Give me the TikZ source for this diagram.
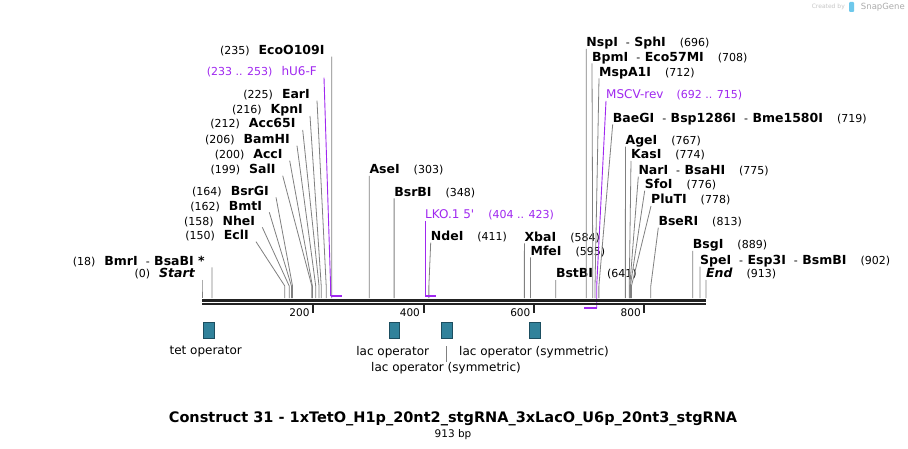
\documentclass[tikz,border=0pt]{standalone}
\usepackage{fontspec}
\setmainfont{DejaVu Sans}
\definecolor{SiteGray}{RGB}{128,128,128}
\definecolor{AxisBlack}{RGB}{34,34,34}
\definecolor{PrimerPurple}{RGB}{160,40,240}
\definecolor{OperatorTeal}{RGB}{49,130,155}
\definecolor{OperatorEdge}{RGB}{28,78,96}
\definecolor{LogoBlue}{RGB}{110,200,235}
\usetikzlibrary{positioning, calc}
\newcommand{\enzname}[1]{{\fontsize{12.5}{14}\selectfont\bfseries #1}}
\newcommand{\enzsep}{\hspace{8pt}{\mdseries\fontsize{11}{13}\selectfont -}\hspace{4.5pt}}

\begin{document}
\begin{tikzpicture}[x=1pt, y=-1pt,
	siteline/.style={draw=SiteGray, line width=0.8pt},
	primerline/.style={draw=PrimerPurple, line width=0.9pt},
	primerbar/.style={draw=PrimerPurple, line width=2pt},
	lsite/.style={anchor=base east, inner sep=0pt, xshift=-7pt, yshift=2pt, font=\fontsize{11}{13}\selectfont},
	rsite/.style={anchor=base west, inner sep=0pt, yshift=2pt, font=\fontsize{11}{13}\selectfont},
	opbox/.style={draw=OperatorEdge, fill=OperatorTeal, line width=0.6pt, minimum width=11pt, minimum height=16pt, inner sep=0pt},
	featlab/.style={font=\fontsize{12}{14}\selectfont, inner sep=0pt},
	ticklab/.style={anchor=east, inner sep=0pt, font=\fontsize{10.5}{12}\selectfont}]
	\useasboundingbox (0,0) rectangle (908,449);
	\fill[white] (0,0) rectangle (908,449);

	% enzyme sites, labels to the left
	\foreach \p/\tx/\ty/\name in {
		235/331.7/56.7/{EcoO109I},
		225/317/100.7/{EarI},
		216/310/116/{KpnI},
		212/302.7/130/{Acc65I},
		206/297/145.7/{BamHI},
		200/289.7/160.7/{AccI},
		199/282.7/175.7/{SalI},
		164/276/197.3/{BsrGI},
		162/269.3/212.3/{BmtI},
		158/262.3/227.3/{NheI},
		150/256/241.7/{EclI},
		18/211.9/267.3/{BmrI\enzsep BsaBI *},
		0/202/280/{\itshape Start}}{
		\pgfmathsetmacro\sx{202+\p*0.552}
		\coordinate (T\p) at (\tx,\ty);
		\coordinate (K\p) at (\sx,286);
		\coordinate (A\p) at (\sx,298);
		\draw[siteline] (T\p) -- (K\p) -- (A\p);
		\node[lsite] (L\p) at (T\p) {(\p)\hspace{9pt}\enzname{\name}};
	}

	% enzyme sites, labels to the right
	\foreach \p/\tx/\ty/\name in {
		303/369.3/176/{AseI},
		348/394.1/198.3/{BsrBI},
		411/430.7/242.7/{NdeI},
		584/524.4/243.3/{XbaI},
		595/530.4/257.3/{MfeI},
		641/555.8/280/{BstBI},
		696/586.2/49/{NspI\enzsep SphI},
		708/592/63.3/{BpmI\enzsep Eco57MI},
		712/599/78.3/{MspA1I},
		719/612.7/124.3/{BaeGI\enzsep Bsp1286I\enzsep Bme1580I},
		767/625.4/146.7/{AgeI},
		774/631/161/{KasI},
		775/638.3/176.7/{NarI\enzsep BsaHI},
		776/644.7/190.7/{SfoI},
		778/651/206/{PluTI},
		813/658.3/227.7/{BseRI},
		889/692.7/251/{BsgI},
		902/699.9/266.7/{SpeI\enzsep Esp3I\enzsep BsmBI},
		913/706/280/{\itshape End}}{
		\pgfmathsetmacro\sx{202+\p*0.552}
		\coordinate (T\p) at (\tx,\ty);
		\coordinate (K\p) at (\sx,286);
		\coordinate (A\p) at (\sx,298);
		\draw[siteline] (T\p) -- (K\p) -- (A\p);
		\node[rsite] (L\p) at (T\p) {\enzname{\name}\hspace{14pt}(\p)};
	}

	% primers
	\coordinate (hUtop) at (324,77.7);
	\coordinate (hUkink) at (330.6,286);
	\coordinate (hUa) at (330.6,296);
	\coordinate (hUb) at (341.7,296);
	\draw[primerline] (hUtop) -- (hUkink) -- (hUa);
	\node[lsite, text=PrimerPurple] (hUlab) at (hUtop) {(233 .. 253)\hspace{9pt}{\fontsize{12}{14}\selectfont hU6-F}};
	\coordinate (LKtop) at (425,221);
	\coordinate (LKa) at (425,296);
	\coordinate (LKb) at (435.5,296);
	\draw[primerline] (LKtop) -- (LKa);
	\node[rsite, text=PrimerPurple] (LKlab) at (LKtop) {{\fontsize{12}{14}\selectfont LKO.1 5\textquotesingle}\hspace{14pt}(404 .. 423)};
	\coordinate (MStop) at (606,101);
	\coordinate (MSkink) at (596.7,286);
	\coordinate (MSa) at (596.7,308);
	\coordinate (MSb) at (584,308);
	\draw[primerline] (MStop) -- (MSkink) -- (MSa);
	\node[rsite, text=PrimerPurple] (MSlab) at (MStop) {{\fontsize{12}{14}\selectfont MSCV-rev}\hspace{13pt}(692 .. 715)};

	% sequence axis
	\coordinate (topstart) at (202,300.2);
	\coordinate (topend) at (706,300.2);
	\coordinate (botstart) at (202,304);
	\coordinate (botend) at (706,304);
	\draw[AxisBlack, line width=3pt] (topstart) -- (topend);
	\draw[AxisBlack, line width=2.6pt] (botstart) -- (botend);
	\draw[primerbar] (hUa) -- (hUb);
	\draw[primerbar] (LKa) -- (LKb);
	\draw[primerbar] (MSa) -- (MSb);
	\foreach \t in {200,400,600,800}{
		\pgfmathsetmacro\sx{202.8+\t*0.552}
		\coordinate (tick\t) at (\sx,305);
		\draw[AxisBlack, line width=2pt] (tick\t) -- ++(0,8);
		\node[ticklab] (tl\t) at ($(tick\t)+(-3.5,7.7)$) {\t};
	}

	% operators
	\node[opbox] (tetO) at (208.8,330.3) {};
	\node[opbox, minimum width=10.4pt] (lacO) at (394.5,330.3) {};
	\node[opbox] (lacOsymA) at (447,330.3) {};
	\node[opbox] (lacOsymB) at (535,330.3) {};
	\node[featlab] (tetOlab) at (205.7,351.7) {tet operator};
	\node[featlab] (lacOlab) at (392.7,351.7) {lac operator};
	\node[featlab] (lacOsymBlab) at (534,351.7) {lac operator (symmetric)};
	\node[featlab] (lacOsymAlab) at (446,367.7) {lac operator (symmetric)};
	\coordinate (lacOsymAtip) at (446,345.7);
	\draw[siteline, line width=0.6pt] (lacOsymAlab.north) -- (lacOsymAtip);

	% title
	\node[font=\fontsize{14.5}{17}\selectfont\bfseries, inner sep=0pt] (title) at (453,419) {Construct 31 - 1xTetO\_H1p\_20nt2\_stgRNA\_3xLacO\_U6p\_20nt3\_stgRNA};
	\node[font=\fontsize{10.5}{12}\selectfont, inner sep=0pt] (bplen) at (453,434.5) {913 bp};

	% watermark
	\node[anchor=east, inner sep=0pt, text=gray!65, font=\fontsize{8.5}{10}\selectfont] (sgname) at (905,7) {SnapGene};
	\fill[LogoBlue, rounded corners=1pt] (849,2) rectangle (854,12);
	\node[anchor=east, inner sep=0pt, text=gray!45, font=\fontsize{6}{7}\selectfont] (sgby) at (845,7) {Created by};
\end{tikzpicture}
\end{document}
